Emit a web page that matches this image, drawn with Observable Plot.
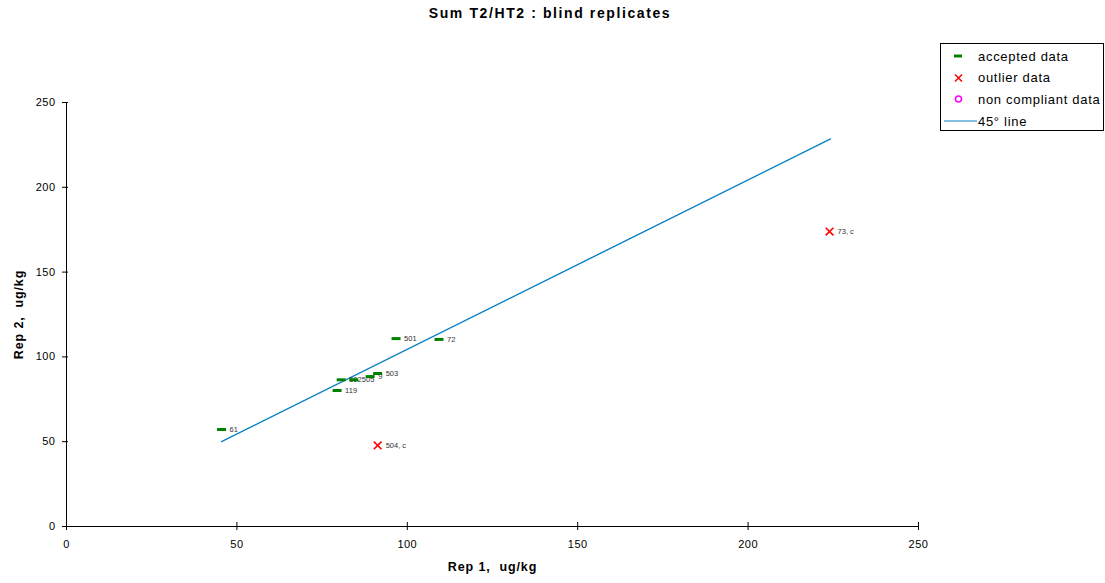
<!DOCTYPE html>
<html>
<head>
<meta charset="utf-8">
<script src="https://cdn.jsdelivr.net/npm/d3@7"></script>
<script src="https://cdn.jsdelivr.net/npm/@observablehq/plot@0.6"></script>
<style>
  body { margin: 0; background: #fff; }
  #chart { position: relative; width: 1105px; height: 583px; font-family: "Liberation Sans", Arial, sans-serif; }
  #title { position: absolute; left: 0; top: 5px; width: 1100px; text-align: center; font-weight: bold; font-size: 14px; letter-spacing: 1.6px; color: #000; }
  #legend { position: absolute; left: 940px; top: 43px; width: 162px; height: 86px; border: 1px solid #000; background: #fff; font-size: 13px; letter-spacing: 0.7px; }
  .row { position: absolute; left: 0; height: 20px; display: flex; align-items: center; }
  .row svg { width: 36px; height: 20px; flex: none; }
  .row span { margin-left: 1px; white-space: nowrap; }
</style>
</head>
<body>
<div id="chart">
  <div id="title">Sum T2/HT2 : blind replicates</div>
</div>
<script>
// accepted replicate pairs (lab id, rep 1, rep 2)
const acceptedIds  = ["61", "119", "502", "505", "9", "503", "501", "72"];
const acceptedRep1 = [45.5, 79.4, 80.6, 84.3, 89.1, 91.3, 96.7, 109.3];
const acceptedRep2 = [57.2, 80.2, 86.5, 86.5, 88.4, 90.2, 110.8, 110.3];

// outlier replicate pairs
const outlierIds  = ["504, c", "73, c"];
const outlierRep1 = [91.3, 223.9];
const outlierRep2 = [47.8, 173.9];

// reference line end points
const lineRep1 = [45.5, 224.2];
const lineRep2 = [50.1, 228.5];

const axisTicks = [0, 50, 100, 150, 200, 250];

const accepted = acceptedIds.map((id, i) => ({id, rep1: acceptedRep1[i], rep2: acceptedRep2[i]}));
const outliers = outlierIds.map((id, i) => ({id, rep1: outlierRep1[i], rep2: outlierRep2[i]}));
const refLine = lineRep1.map((v, i) => ({rep1: v, rep2: lineRep2[i]}));

// short horizontal bar used as the marker for accepted data
const dash = { draw(ctx) { ctx.rect(-4.5, -1.5, 9, 3); } };

const font = "Liberation Sans, Arial, sans-serif";

const chart = Plot.plot({
  width: 1105,
  height: 583,
  marginTop: 102,
  marginRight: 187,
  marginBottom: 57,
  marginLeft: 66,
  style: { fontFamily: font, background: "#fff", color: "#000", overflow: "visible" },
  x: { domain: [0, 250] },
  y: { domain: [0, 250] },
  marks: [
    Plot.ruleY([0], { stroke: "#000", strokeWidth: 1 }),
    Plot.ruleX([0], { stroke: "#000", strokeWidth: 1 }),
    Plot.axisX({ ticks: axisTicks, tickSize: 4, tickPadding: 10, fontSize: 11, stroke: "#000", strokeOpacity: 1,
                 label: "Rep 1,  ug/kg", labelAnchor: "center", labelArrow: "none", labelOffset: 44 }),
    Plot.axisX({ ticks: axisTicks, tickSize: -4, text: null, label: null, stroke: "#000", strokeOpacity: 1 }),
    Plot.axisY({ ticks: axisTicks, tickSize: 4, tickPadding: 7, fontSize: 11, stroke: "#000", strokeOpacity: 1,
                 label: "Rep 2,  ug/kg", labelAnchor: "center", labelArrow: "none", labelOffset: 52 }),
    Plot.axisY({ ticks: axisTicks, tickSize: -2, text: null, label: null, stroke: "#000", strokeOpacity: 1 }),
    Plot.line(refLine, { x: "rep1", y: "rep2", stroke: "#0a80c2", strokeWidth: 1.4 }),
    Plot.text(accepted, { x: "rep1", y: "rep2", text: "id", dx: 8, textAnchor: "start", fontSize: 7.5, fill: "#333" }),
    Plot.text(outliers, { x: "rep1", y: "rep2", text: "id", dx: 8, textAnchor: "start", fontSize: 7.5, fill: "#333" }),
    Plot.dot(accepted, { x: "rep1", y: "rep2", symbol: dash, fill: "#008000", stroke: "none" }),
    Plot.dot(outliers, { x: "rep1", y: "rep2", symbol: "times", r: 3.6, stroke: "#ff0000", strokeWidth: 1.6 })
  ]
});

// bold axis titles, slightly tracked like the rest of the chart text
d3.select(chart).selectAll("[aria-label='x-axis label'] text, [aria-label='y-axis label'] text")
  .style("font-weight", "bold").style("font-size", "12.5px").style("letter-spacing", "0.9px");
d3.select(chart).selectAll("[aria-label='x-axis tick label'] text, [aria-label='y-axis tick label'] text")
  .style("letter-spacing", "0.5px");

document.getElementById("chart").prepend(chart);

// legend box
const legend = document.createElement("div");
legend.id = "legend";
const rows = [
  { label: "accepted data", icon: '<rect x="13" y="8.5" width="8" height="3" fill="#008000"/>' },
  { label: "outlier data", icon: '<path d="M14 6.5L21 13.5M21 6.5L14 13.5" stroke="#ff0000" stroke-width="1.5"/>' },
  { label: "non compliant data", icon: '<circle cx="17.5" cy="10" r="3" fill="none" stroke="#ff00ff" stroke-width="1.5"/>' },
  { label: "45° line", icon: '<line x1="3" x2="36" y1="10" y2="10" stroke="#0a80c2" stroke-width="1"/>' }
];
rows.forEach((r, i) => {
  const div = document.createElement("div");
  div.className = "row";
  div.style.top = (2 + i * 21.7) + "px";
  div.innerHTML = `<svg viewBox="0 0 36 20">${r.icon}</svg><span>${r.label}</span>`;
  legend.appendChild(div);
});
document.getElementById("chart").appendChild(legend);
</script>
</body>
</html>
